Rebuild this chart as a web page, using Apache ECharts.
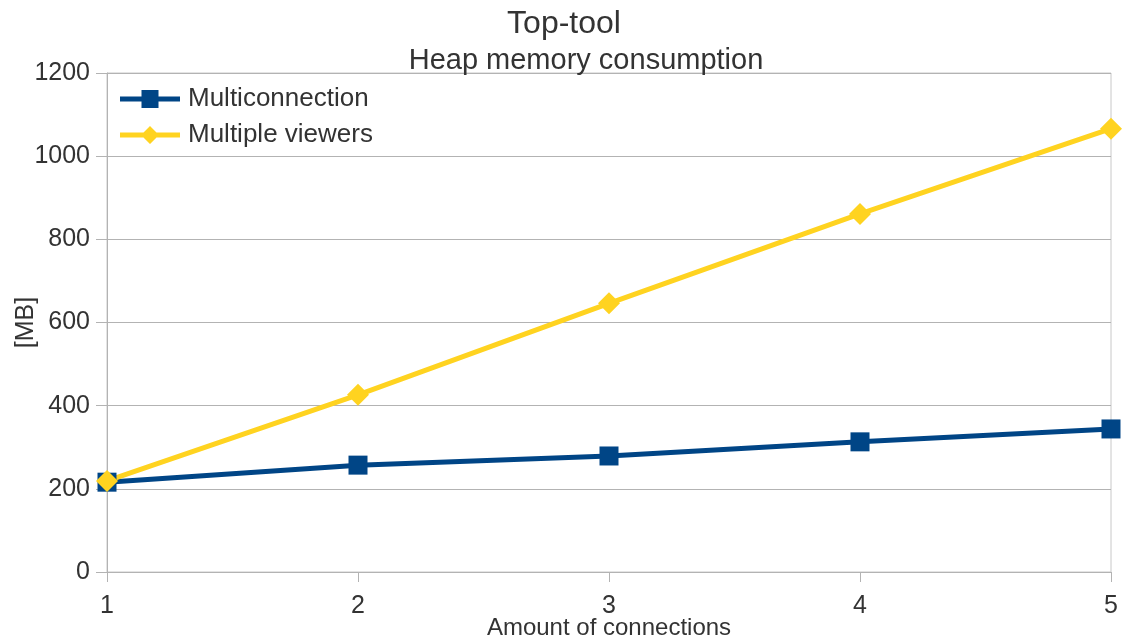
<!DOCTYPE html>
<html><head><meta charset="utf-8">
<script src="https://cdn.jsdelivr.net/npm/echarts@6/dist/echarts.min.js"></script>
<style>html,body{margin:0;padding:0;background:#fff}#c{width:1125px;height:639px}</style>
</head><body><div id="c"></div>
<script>
const categories = ['1', '2', '3', '4', '5'];
const multiconnection = [216, 257, 279, 313, 344];
const multipleViewers = [219, 426, 646, 861, 1066];
const yTicks = [0, 200, 400, 600, 800, 1000, 1200];

const FONT = '"Liberation Sans", Arial, sans-serif';
const ICON_SQUARE = 'path://M0,6.5L60,6.5L60,11.5L0,11.5Z M21.5,0L38.5,0L38.5,18L21.5,18Z';
const ICON_DIAMOND = 'path://M0,6.5L60,6.5L60,11.5L0,11.5Z M30,0L39,9L30,18L21,9Z';
const chart = echarts.init(document.getElementById('c'));
chart.setOption({
  animation: false,
  backgroundColor: '#ffffff',
  textStyle: { fontFamily: FONT, color: '#333333' },
  title: [
    { text: 'Top-tool', left: 564, textAlign: 'center', top: 8, padding: 0, textStyle: { fontFamily: FONT, fontSize: 32, fontWeight: 'normal', color: '#333333' } },
    { text: 'Heap memory consumption', left: 586, textAlign: 'center', top: 46, padding: 0, textStyle: { fontFamily: FONT, fontSize: 29, fontWeight: 'normal', color: '#333333' } }
  ],
  legend: {
    orient: 'vertical', left: 120, top: 86, padding: 0, itemWidth: 60, itemHeight: 18, itemGap: 10,
    textStyle: { fontFamily: FONT, fontSize: 26, color: '#333333', padding: [0, 0, 0, 3] },
    data: [
      { name: 'Multiconnection', icon: ICON_SQUARE },
      { name: 'Multiple viewers', icon: ICON_DIAMOND }
    ]
  },
  grid: { left: 107, right: 14, top: 73, bottom: 67, outerBoundsMode: 'none', containLabel: false, show: true, borderColor: '#c8c8c8', borderWidth: 1 },
  xAxis: {
    type: 'category', data: categories, boundaryGap: false,
    name: 'Amount of connections', nameLocation: 'middle', nameGap: 44, nameMoveOverlap: false,
    nameTextStyle: { fontFamily: FONT, fontSize: 24, color: '#333333' },
    axisLine: { lineStyle: { color: '#b3b3b3', width: 1 } },
    axisTick: { show: true, length: 10, lineStyle: { color: '#b3b3b3' } },
    axisLabel: { fontFamily: FONT, fontSize: 25, color: '#333333', margin: 22 },
    splitLine: { show: false }
  },
  yAxis: {
    type: 'value', min: 0, max: 1200, interval: 200,
    name: '[MB]', nameLocation: 'middle', nameGap: 68, nameRotate: 90, nameMoveOverlap: false,
    nameTextStyle: { fontFamily: FONT, fontSize: 25, color: '#333333' },
    axisLine: { show: true, lineStyle: { color: '#b3b3b3', width: 1 } },
    axisTick: { show: true, length: 11, inside: false, lineStyle: { color: '#b3b3b3' } },
    axisLabel: { fontFamily: FONT, fontSize: 25, color: '#333333', margin: 17,
      formatter: v => yTicks.includes(v) ? String(v) : '' },
    splitLine: { show: true, lineStyle: { color: '#b3b3b3', width: 1 } }
  },
  series: [
    { name: 'Multiconnection', type: 'line', data: multiconnection,
      symbol: 'rect', symbolSize: 19,
      lineStyle: { color: '#004586', width: 5 }, itemStyle: { color: '#004586' } },
    { name: 'Multiple viewers', type: 'line', data: multipleViewers,
      symbol: 'diamond', symbolSize: 22,
      lineStyle: { color: '#ffd320', width: 5 }, itemStyle: { color: '#ffd320' } }
  ]
});
</script></body></html>
